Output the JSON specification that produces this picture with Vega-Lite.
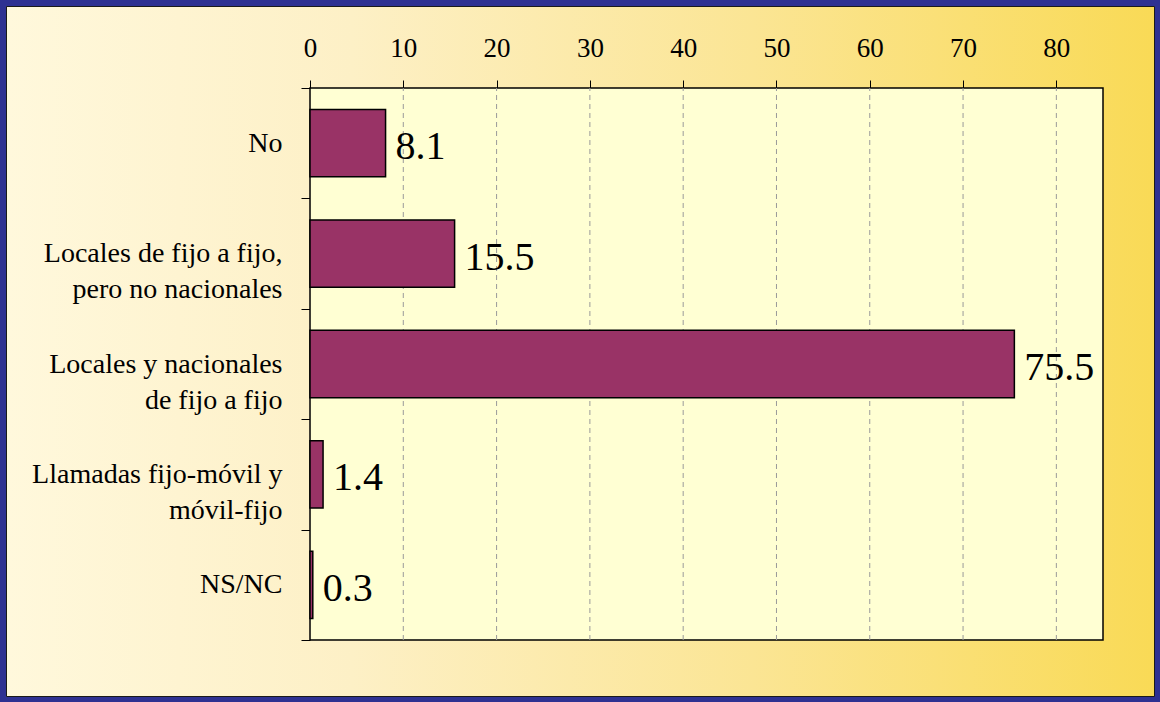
{
  "$schema": "https://vega.github.io/schema/vega-lite/v6.json",
  "width": 1148,
  "height": 690,
  "autosize": {"type": "none"},
  "padding": 6,
  "background": "#2E3192",
  "view": {
    "fill": {
      "gradient": "linear",
      "x1": 0, "y1": 0, "x2": 1, "y2": 0,
      "stops": [
        {"offset": 0, "color": "#FFF8DC"},
        {"offset": 0.3, "color": "#FDF0C6"},
        {"offset": 0.65, "color": "#FBE594"},
        {"offset": 1, "color": "#F9DA56"}
      ]
    },
    "stroke": "#1a1a1a",
    "strokeWidth": 1
  },
  "config": {"font": "Liberation Serif"},
  "data": {
    "values": [
      {"cat": "No", "v": 8.1},
      {"cat": "Locales de fijo a fijo,\npero no nacionales", "v": 15.5},
      {"cat": "Locales y nacionales\nde fijo a fijo", "v": 75.5},
      {"cat": "Llamadas fijo-móvil y\nmóvil-fijo", "v": 1.4},
      {"cat": "NS/NC", "v": 0.3}
    ]
  },
  "layer": [
    {
      "layer": [
        {
          "data": {"values": [{}]},
          "mark": {"type": "rect", "fill": "#FFFFD3", "stroke": "#000000", "strokeWidth": 1.5},
          "encoding": {
            "x": {"datum": 0, "type": "quantitative", "scale": {"domain": [0, 85], "range": [304, 1097], "nice": false},
              "axis": {"orient": "top", "offset": -82, "title": null, "values": [0, 10, 20, 30, 40, 50, 60, 70, 80],
                "grid": false, "domain": false, "ticks": true, "tickSize": 8, "tickColor": "#000000", "tickWidth": 1,
                "labelFontSize": 27, "labelColor": "#000000", "labelPadding": 24, "labelFlush": false,
                "labelBaseline": "alphabetic", "labelFont": "Liberation Serif"}},
            "x2": {"datum": 85},
            "y": {"datum": 0, "type": "quantitative", "scale": {"domain": [0, 1], "range": [634, 82], "nice": false}, "axis": null},
            "y2": {"datum": 1}
          }
        },
        {
          "data": {"values": [{"t": 10}, {"t": 20}, {"t": 30}, {"t": 40}, {"t": 50}, {"t": 60}, {"t": 70}, {"t": 80}]},
          "mark": {"type": "rule", "stroke": "#9a9a9a", "strokeDash": [5, 4], "strokeWidth": 1},
          "encoding": {
            "x": {"field": "t", "type": "quantitative", "scale": {"domain": [0, 85], "range": [304, 1097], "nice": false},
              "axis": {"orient": "top", "offset": -82, "title": null, "values": [0, 10, 20, 30, 40, 50, 60, 70, 80],
                "grid": false, "domain": false, "ticks": true, "tickSize": 8, "tickColor": "#000000", "tickWidth": 1,
                "labelFontSize": 27, "labelColor": "#000000", "labelPadding": 24, "labelFlush": false,
                "labelBaseline": "alphabetic", "labelFont": "Liberation Serif"}},
            "y": {"datum": 0, "type": "quantitative", "scale": {"domain": [0, 1], "range": [634, 82], "nice": false}, "axis": null},
            "y2": {"datum": 1}
          }
        }
      ]
    },
    {
      "layer": [
        {
          "mark": {"type": "bar", "fill": "#993366", "stroke": "#000000", "strokeWidth": 1.5, "height": {"band": 0.61}},
          "encoding": {
            "x": {
              "field": "v", "type": "quantitative",
              "scale": {"domain": [0, 85], "range": [304, 1097], "nice": false},
              "axis": {"orient": "top", "offset": -82, "title": null, "values": [0, 10, 20, 30, 40, 50, 60, 70, 80],
                "grid": false, "domain": false, "ticks": true, "tickSize": 8, "tickColor": "#000000", "tickWidth": 1,
                "labelFontSize": 27, "labelColor": "#000000", "labelPadding": 24, "labelFlush": false,
                "labelBaseline": "alphabetic", "labelFont": "Liberation Serif"}
            },
            "y": {
              "field": "cat", "type": "nominal", "sort": null,
              "scale": {
                "domain": ["No", "Locales de fijo a fijo,\npero no nacionales", "Locales y nacionales\nde fijo a fijo", "Llamadas fijo-móvil y\nmóvil-fijo", "NS/NC"],
                "range": [82, 634], "paddingInner": 0, "paddingOuter": 0
              },
              "axis": {
                "orient": "left", "offset": -304, "title": null,
                "tickBand": "extent", "tickSize": 9, "tickColor": "#000000", "tickWidth": 1,
                "domain": false, "grid": false,
                "labelFontSize": 28, "labelLineHeight": 36, "labelPadding": 19,
                "labelExpr": "split(datum.label, '\\n')",
                "labelColor": "#000000", "labelLimit": 400, "labelFont": "Liberation Serif",
                "labelAlign": "right", "labelBaseline": "middle"
              }
            }
          }
        },
        {
          "mark": {"type": "text", "align": "left", "baseline": "alphabetic", "dx": 10, "dy": 16, "fontSize": 40, "color": "#000000", "font": "Liberation Serif"},
          "encoding": {
            "x": {"field": "v", "type": "quantitative", "scale": {"domain": [0, 85], "range": [304, 1097], "nice": false},
              "axis": {"orient": "top", "offset": -82, "title": null, "values": [0, 10, 20, 30, 40, 50, 60, 70, 80],
                "grid": false, "domain": false, "ticks": true, "tickSize": 8, "tickColor": "#000000", "tickWidth": 1,
                "labelFontSize": 27, "labelColor": "#000000", "labelPadding": 24, "labelFlush": false,
                "labelBaseline": "alphabetic", "labelFont": "Liberation Serif"}},
            "y": {
              "field": "cat", "type": "nominal", "sort": null,
              "scale": {
                "domain": ["No", "Locales de fijo a fijo,\npero no nacionales", "Locales y nacionales\nde fijo a fijo", "Llamadas fijo-móvil y\nmóvil-fijo", "NS/NC"],
                "range": [82, 634], "paddingInner": 0, "paddingOuter": 0
              }
            },
            "text": {"field": "v", "type": "quantitative", "format": ".1f"}
          }
        }
      ]
    }
  ],
  "resolve": {"scale": {"y": "independent"}, "axis": {"y": "independent"}}
}
